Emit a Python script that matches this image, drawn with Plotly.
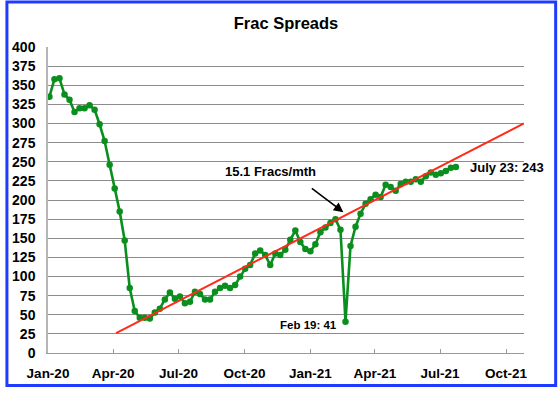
import pandas as pd
import plotly.graph_objects as go

# ---- data ----
week_dates = pd.date_range("2020-01-03", "2021-07-23", freq="7D")
frac_spreads = [
    335, 358, 359, 338, 331, 315, 320, 320, 324, 318, 299, 277, 246, 215, 185, 147,
    85, 55, 46, 46, 45, 53, 58, 70, 79, 71, 74, 65, 67, 80, 77, 70, 70, 80, 85, 88,
    85, 89, 100, 110, 115, 130, 134, 128, 115, 130, 128, 135, 148, 160, 145, 136,
    133, 142, 158, 164, 170, 175, 161, 41, 140, 165, 182, 195, 201, 207, 204, 220,
    217, 212, 221, 224, 224, 227, 224, 231, 236, 233, 235, 238, 242, 243,
]
trend_dates = ["2020-04-05", "2021-10-26"]
trend_values = [26, 300]

tick_dates = ["2020-01-01", "2020-04-01", "2020-07-01", "2020-10-01",
              "2021-01-01", "2021-04-01", "2021-07-01", "2021-10-01"]
tick_labels = ["Jan-20", "Apr-20", "Jul-20", "Oct-20",
               "Jan-21", "Apr-21", "Jul-21", "Oct-21"]
y_ticks = list(range(0, 401, 25))

FONT = "Liberation Sans, Arial, sans-serif"

fig = go.Figure()
fig.add_trace(go.Scatter(
    x=week_dates, y=frac_spreads, mode="lines+markers",
    line=dict(color="#0A8F1E", width=2.6),
    marker=dict(color="#0A8F1E", size=6.5),
    showlegend=False,
))
fig.add_trace(go.Scatter(
    x=trend_dates, y=trend_values, mode="lines",
    line=dict(color="#FF2A1A", width=2),
    showlegend=False,
))

fig.update_layout(
    width=560, height=393,
    margin=dict(l=43, r=36, t=47, b=36),
    paper_bgcolor="white", plot_bgcolor="white",
    font=dict(family=FONT, color="black"),
    title=dict(text="<b>Frac Spreads</b>", x=0.5, xref="paper", xanchor="center",
               y=1 - 23 / 393, yanchor="middle",
               font=dict(size=16.5, family=FONT, color="black")),
    xaxis=dict(
        type="date", range=["2020-01-01", "2021-10-26"],
        tickvals=tick_dates, ticktext=["<b>%s</b>" % t for t in tick_labels],
        tickfont=dict(size=13.5, family=FONT, color="black"),
        ticks="inside", ticklen=4, tickcolor="#9a9a9a", tickwidth=1,
        showgrid=False, zeroline=False,
        showline=True, linecolor="#9a9a9a", linewidth=1.2,
        ticklabelstandoff=8,
    ),
    yaxis=dict(
        range=[0, 400], tickvals=y_ticks,
        ticktext=["<b>%d</b>" % v for v in y_ticks],
        tickfont=dict(size=14, family=FONT, color="black"),
        showgrid=True, gridcolor="#8C8C8C", gridwidth=1.2,
        zeroline=False, ticks="",
        showline=True, linecolor="#b5b5b5", linewidth=1.5,
        ticklabelstandoff=8,
    ),
    shapes=[dict(
        type="rect", xref="paper", yref="paper",
        x0=(1.5 - 43) / 481, x1=(556 - 43) / 481,
        y0=(357 - 390) / 310, y1=(357 - 1.5) / 310,
        line=dict(color="#1E3CFF", width=3), fillcolor="rgba(0,0,0,0)",
        layer="above",
    )],
    annotations=[
        dict(x="2021-10-02", y=243, xref="x", yref="y", text="<b>July 23: 243</b>",
             showarrow=False, font=dict(size=13, family=FONT, color="black"),
             xanchor="center", yanchor="middle"),
        dict(x="2020-11-06", y=237, xref="x", yref="y", text="<b>15.1 Fracs/mth</b>",
             showarrow=False, font=dict(size=13, family=FONT, color="black"),
             xanchor="center", yanchor="middle"),
        dict(x="2020-12-29", y=37, xref="x", yref="y", text="<b>Feb 19: 41</b>",
             showarrow=False, font=dict(size=11.5, family=FONT, color="black"),
             xanchor="center", yanchor="middle"),
        dict(x="2021-02-16", y=184, xref="x", yref="y", text="",
             showarrow=True, ax=-33, ay=-25, arrowhead=2, arrowsize=1.2,
             arrowwidth=1.6, arrowcolor="black"),
    ],
)

fig.write_html(
    "out.html",
    config={"displayModeBar": False},
    post_script="document.body.style.margin='0';document.body.style.overflow='hidden';",
)
